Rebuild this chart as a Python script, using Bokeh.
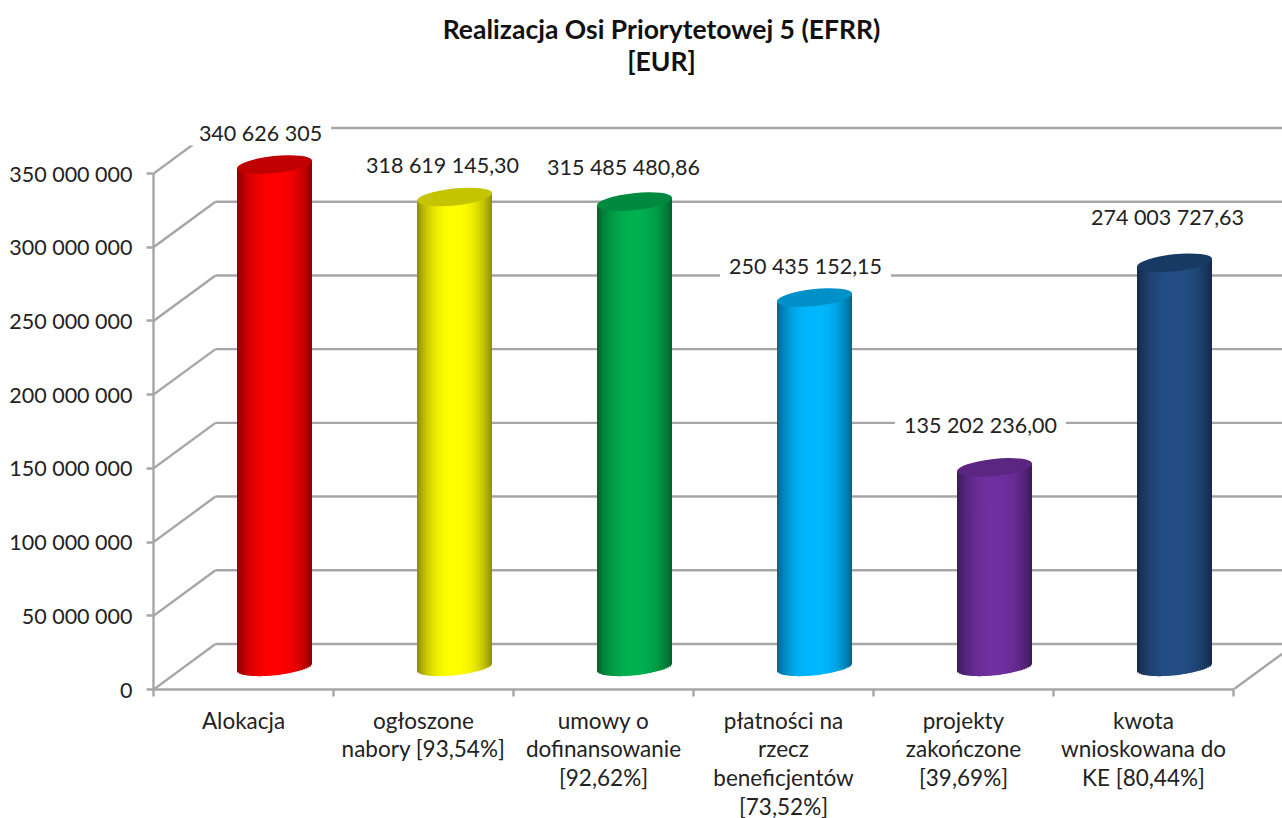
import math
from bokeh.plotting import figure
from bokeh.models import Range1d, LinearAxis, FixedTicker, Label
from bokeh.core.properties import value as fv
from bokeh.embed import file_html
from bokeh.resources import INLINE

categories = ["Alokacja", "ogłoszone\nnabory [93,54%]", "umowy o\ndofinansowanie\n[92,62%]",
              "płatności na\nrzecz\nbeneficjentów\n[73,52%]", "projekty\nzakończone\n[39,69%]",
              "kwota\nwnioskowana do\nKE [80,44%]"]
values = [340626305, 318619145.30, 315485480.86, 250435152.15, 135202236.00, 274003727.63]
value_labels = ["340 626 305", "318 619 145,30", "315 485 480,86", "250 435 152,15", "135 202 236,00", "274 003 727,63"]
y_ticks = [0, 50000000, 100000000, 150000000, 200000000, 250000000, 300000000, 350000000]
y_tick_labels = ["0", "50 000 000", "100 000 000", "150 000 000", "200 000 000", "250 000 000", "300 000 000", "350 000 000"]
body_colors = [(255, 0, 0), (255, 255, 0), (0, 176, 80), (0, 184, 255), (112, 48, 160), (36, 78, 132)]
top_colors = ["#c00000", "#c4c400", "#008a3f", "#0090c8", "#5a2682", "#173a64"]
label_dx = [-14, -12, -11, -9, -14, -7]
label_dy = [-32, -32, -35, -32, -42, -46]

FONT = "Lato"
GRID = "#a6a6a6"
W, H = 1282, 818
OX, OY = 0, 0
LEFT_PX, ZERO_PX, TOP350_PX, CAT_PX = 153, 689, 173, 180
VPP = 350000000 / (ZERO_PX - TOP350_PX)   # value per pixel
UPP = 1 / CAT_PX                          # x unit per pixel
depth_x, depth_y = 62 * UPP, 45.5 * VPP

x_end = (OX + W - LEFT_PX) * UPP
y_end = (ZERO_PX - OY) * VPP

p = figure(width=W, height=H, output_backend="svg", toolbar_location=None,
           x_range=Range1d(0, x_end), y_range=Range1d(0, y_end),
           x_axis_type=None, y_axis_type=None,
           frame_width=W - LEFT_PX, frame_height=ZERO_PX,
           min_border_left=LEFT_PX - OX, min_border_right=0,
           min_border_top=0, min_border_bottom=0)
p.outline_line_color = None
p.xgrid.visible = False
p.ygrid.visible = False
p.background_fill_color = "white"

# back wall grid, and depth diagonals
p.segment(x0=[depth_x] * len(y_ticks), x1=[x_end] * len(y_ticks),
          y0=[v + depth_y for v in y_ticks], y1=[v + depth_y for v in y_ticks],
          line_color=GRID, line_width=2.4)
p.segment(x0=[0] * len(y_ticks), x1=[depth_x] * len(y_ticks),
          y0=y_ticks, y1=[v + depth_y for v in y_ticks], line_color=GRID, line_width=2.4)
p.segment(x0=[6], x1=[6 + depth_x], y0=[0], y1=[depth_y], line_color=GRID, line_width=2.4)

# value labels (white box breaks the grid lines behind them)
xs = [i + 0.5 + depth_x / 2 for i in range(6)]
p.text(x=xs, y=[v + depth_y / 2 for v in values], text=value_labels,
       x_offset=label_dx, y_offset=label_dy,
       text_font=fv(FONT), text_font_size="21.5px", text_color="#222222",
       text_align="center", text_baseline="middle",
       background_fill_color="white", padding=(9, 0))

# cylinders
R_X, R_Y, TILT = 37.5, 8.5, 4.0
N = 38
for i, (v, col) in enumerate(zip(values, body_colors)):
    cx = xs[i]
    base = depth_y / 2
    L, Rt, T, B, C = [], [], [], [], []
    for k in range(N):
        t0 = -1 + 2 * k / N
        t1 = -1 + 2 * (k + 1) / N
        t = (t0 + t1) / 2
        L.append(cx + t0 * R_X * UPP)
        Rt.append(cx + (t1 * R_X + (1.0 if k < N - 1 else 0)) * UPP)
        T.append(v + base + TILT * t * VPP)
        B.append(base + (TILT * t - R_Y * math.sqrt(max(0, 1 - t * t))) * VPP)
        b = 1 - 0.45 * abs(t) ** 2.5
        C.append("#%02x%02x%02x" % tuple(int(c * b) for c in col))
    p.quad(left=L, right=Rt, top=T, bottom=B, fill_color=C, line_color=None)
    p.ellipse(x=[cx], y=[v + base], width=[2 * R_X + 0.5], height=[2 * R_Y],
              width_units="screen", height_units="screen", angle=math.atan(TILT / R_X),
              fill_color=top_colors[i], line_color=None)

# axes
yax = LinearAxis(ticker=FixedTicker(ticks=y_ticks), bounds=(0, 350000000),
                 major_label_overrides=dict(zip(y_ticks, y_tick_labels)))
yax.axis_line_color = GRID
yax.axis_line_width = 2.4
yax.major_tick_line_color = GRID
yax.major_tick_line_width = 2.4
yax.major_tick_in = 0
yax.major_tick_out = 7
yax.minor_tick_line_color = None
yax.major_label_standoff = 14
yax.major_label_text_font = FONT
yax.major_label_text_font_size = "21.5px"
yax.major_label_text_color = "#222222"
p.add_layout(yax, "left")

xax = LinearAxis(ticker=FixedTicker(ticks=[0, 1, 2, 3, 4, 5, 6]), bounds=(0, 6),
                 major_label_overrides={i: "" for i in range(7)})
xax.axis_line_color = GRID
xax.axis_line_width = 2.4
xax.major_tick_line_color = GRID
xax.major_tick_line_width = 2.4
xax.major_tick_in = 0
xax.major_tick_out = 7
xax.minor_tick_line_color = None
xax.major_label_text_font_size = "1px"
xax.major_label_standoff = 0
p.add_layout(xax, "below")

cax = LinearAxis(ticker=FixedTicker(ticks=[i + 0.5 for i in range(6)]),
                 major_label_overrides={i + 0.5: c for i, c in enumerate(categories)})
cax.axis_line_color = None
cax.major_tick_line_color = None
cax.minor_tick_line_color = None
cax.major_label_text_font = FONT
cax.major_label_text_font_size = "22.5px"
cax.major_label_text_color = "#222222"
cax.major_label_text_line_height = 1.07
cax.major_label_standoff = 4
cax.major_label_text_align = "center"
cax.major_label_text_baseline = "top"
p.add_layout(cax, "below")

# title
for txt, py in [("Realizacja Osi Priorytetowej 5 (EFRR)", 28), ("[EUR]", 60)]:
    p.add_layout(Label(x=(661 - LEFT_PX) * UPP, y=(ZERO_PX - py) * VPP, text=txt,
                       text_font=FONT, text_font_style="bold", text_font_size="26.5px",
                       text_color="#111111", text_align="center", text_baseline="middle"))

open("out.html", "w").write(file_html(p, INLINE))
